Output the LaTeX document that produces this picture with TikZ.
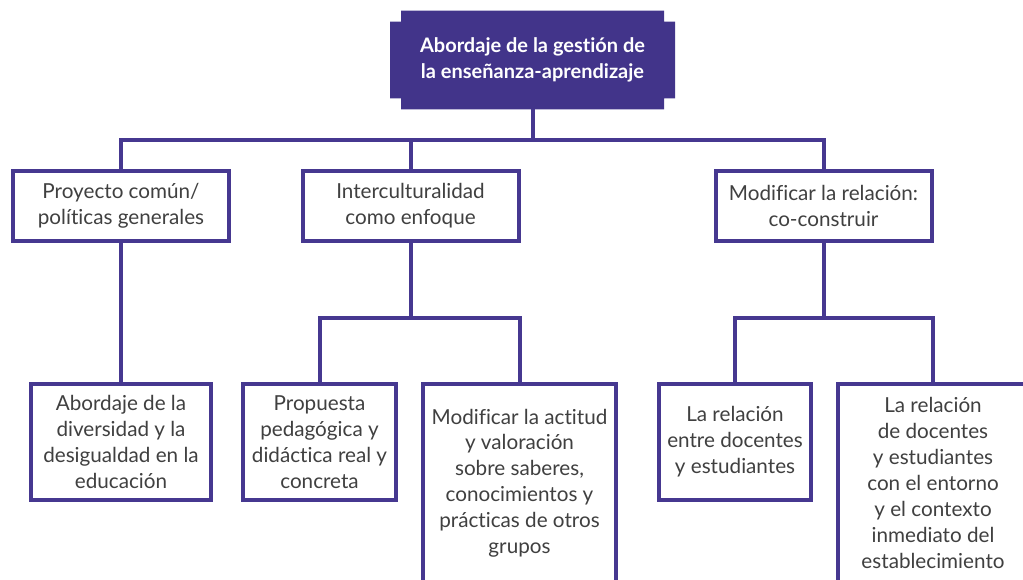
\documentclass[tikz,border=0pt]{standalone}
\usepackage{fontspec}
\setmainfont[Ligatures=NoCommon]{Lato}
\usepackage{xcolor}
\usetikzlibrary{positioning}

\definecolor{chartpurple}{RGB}{70,56,144}
\definecolor{toppurple}{RGB}{66,52,138}
\definecolor{chartgray}{RGB}{64,64,64}

\begin{document}
\begin{tikzpicture}[x=0.75pt,y=-0.75pt,
    box/.style={draw=chartpurple, line width=3pt, fill=white, align=center,
        text=chartgray, inner sep=0pt, outer sep=0pt,
        font=\fontsize{15.5}{19.4}\selectfont},
    link/.style={draw=chartpurple, line width=3pt}]
    \clip (0,0) rectangle (1023,580);

    % Main box (notched corners)
    \node (top) at (532.5,60) [minimum width=213.75pt, minimum height=73.95pt,
        inner sep=0pt, outer sep=0pt] {};
    \fill [toppurple] (top.north west) ++(11,0) -- ++(263,0) -- ++(0,11) -- ++(11,0)
        -- ++(0,76.6) -- ++(-11,0) -- ++(0,11) -- ++(-263,0) -- ++(0,-11) -- ++(-11,0)
        -- ++(0,-76.6) -- ++(11,0) -- cycle;
    \node [align=center, text=white, font=\fontsize{15}{19.5}\selectfont\bfseries]
        at (top.center) {Abordaje de la gestión de\\la enseñanza-aprendizaje};

    % First level
    \node (politicas) [box, minimum width=162pt, minimum height=52.5pt] at (121,206)
        {Proyecto común/\\políticas generales};
    \node (enfoque) [box, minimum width=162pt, minimum height=52.5pt] at (410.5,206)
        {Interculturalidad\\como enfoque};
    \node (relacion) [box, minimum width=162pt, minimum height=52.5pt] at (823.5,206)
        {Modificar la relación:\\co-construir};

    % Second level
    \node (diversidad) [box, minimum width=135pt, minimum height=87pt] at (121,442)
        {Abordaje de la\\diversidad y la\\desigualdad en la\\educación};
    \node (propuesta) [box, minimum width=114.75pt, minimum height=87pt] at (319.5,442)
        {Propuesta\\pedagógica y\\didáctica real y\\concreta};
    \node (actitud) [box, minimum width=144.75pt, minimum height=148.5pt] at (519.5,483)
        {Modificar la actitud\\y valoración\\sobre saberes,\\conocimientos y\\prácticas de otros\\grupos};
    \node (docentes) [box, minimum width=114pt, minimum height=87pt] at (735,442)
        {La relación\\entre docentes\\y estudiantes};
    \node (entorno) [box, minimum width=142.5pt, minimum height=148.5pt] at (933,483)
        {La relación\\de docentes\\y estudiantes\\con el entorno\\y el contexto\\inmediato del\\establecimiento};

    % Connectors
    \coordinate (bus1) at (532.5,140);
    \coordinate (bus2) at (410.5,318);
    \coordinate (bus3) at (823.5,318);
    \draw [link] (top.south) -- (bus1);
    \draw [link] (politicas.north) |- (bus1) -| (relacion.north);
    \draw [link] (enfoque.north) -- (enfoque.north |- bus1);
    \draw [link] (politicas.south) -- (diversidad.north);
    \draw [link] (enfoque.south) -- (bus2);
    \draw [link] (propuesta.north) |- (bus2) -| (actitud.north);
    \draw [link] (relacion.south) -- (bus3);
    \draw [link] (docentes.north) |- (bus3) -| (entorno.north);
\end{tikzpicture}
\end{document}
